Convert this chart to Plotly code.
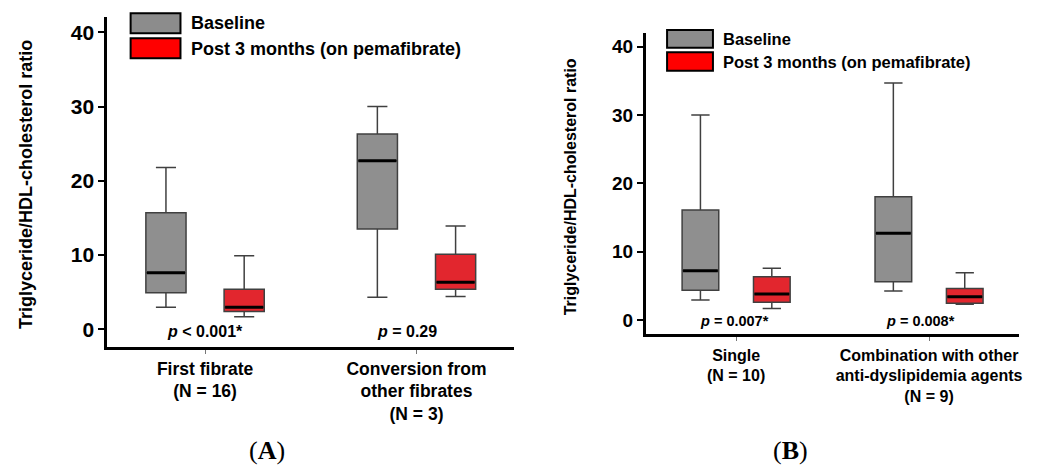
import plotly.graph_objects as go

W, H = 1042, 465

# ---------------- data ----------------
cats_a = ["First fibrate<br>(N = 16)", "Conversion from<br>other fibrates<br>(N = 3)"]
base_a_low = [2.96, 4.3]
base_a_q1 = [4.93, 13.5]
base_a_med = [7.6, 22.7]
base_a_q3 = [15.7, 26.3]
base_a_high = [21.8, 30.0]
post_a_low = [1.7, 4.4]
post_a_q1 = [2.4, 5.4]
post_a_med = [2.96, 6.33]
post_a_q3 = [5.4, 10.1]
post_a_high = [9.9, 13.9]
p_a = ["<i>p</i> < 0.001*", "<i>p</i> = 0.29"]

cats_b = ["Single<br>(N = 10)", "Combination with other<br>anti-dyslipidemia agents<br>(N = 9)"]
base_b_low = [2.93, 4.25]
base_b_q1 = [4.35, 5.6]
base_b_med = [7.2, 12.7]
base_b_q3 = [16.1, 18.05]
base_b_high = [30.0, 34.7]
post_b_low = [1.7, 2.3]
post_b_q1 = [2.6, 2.44]
post_b_med = [3.8, 3.4]
post_b_q3 = [6.34, 4.6]
post_b_high = [7.57, 6.93]
p_b = ["<i>p</i> = 0.007*", "<i>p</i> = 0.008*"]

y_ticks = [0, 10, 20, 30, 40]
series_names = ["Baseline", "Post 3 months (on pemafibrate)"]
# --------------------------------------

GRAY_FILL = "#8f8f8f"
RED_FILL = "#e2262e"
OUTLINE = "#404040"
FONT = "Liberation Sans"
OFF = 0.185
BW = 0.19


def px(x):
    return x / W


def py(y):
    return (H - y) / H


fig = go.Figure()


def add_panel(xa, ya, low, q1, med, q3, high, fill, sign):
    xs = [i + sign * OFF for i in range(len(med))]
    for i, x in enumerate(xs):
        fig.add_trace(go.Box(
            x=[x], q1=[q1[i]], median=[med[i]], q3=[q3[i]],
            lowerfence=[low[i]], upperfence=[high[i]],
            width=BW, whiskerwidth=0.5, fillcolor=fill,
            line=dict(color=OUTLINE, width=1.5),
            xaxis=xa, yaxis=ya, showlegend=False, hoverinfo="skip"))
        fig.add_trace(go.Scatter(
            x=[x - BW / 2 + 0.005, x + BW / 2 - 0.005], y=[med[i], med[i]],
            mode="lines", line=dict(color="black", width=3),
            xaxis=xa, yaxis=ya, showlegend=False, hoverinfo="skip"))


add_panel("x", "y", base_a_low, base_a_q1, base_a_med, base_a_q3, base_a_high, GRAY_FILL, -1)
add_panel("x", "y", post_a_low, post_a_q1, post_a_med, post_a_q3, post_a_high, RED_FILL, 1)
add_panel("x2", "y2", base_b_low, base_b_q1, base_b_med, base_b_q3, base_b_high, GRAY_FILL, -1)
add_panel("x2", "y2", post_b_low, post_b_q1, post_b_med, post_b_q3, post_b_high, RED_FILL, 1)

axis_common = dict(showline=True, linewidth=3, linecolor="black", showgrid=False,
                   zeroline=False, ticks="outside")

fig.update_layout(
    width=W, height=H, margin=dict(l=0, r=0, t=0, b=0),
    paper_bgcolor="white", plot_bgcolor="white",
    font=dict(family=FONT, color="black"),
    boxmode="overlay",
    xaxis=dict(domain=[px(107.7), px(515)], range=[-0.462, 1.459],
               tickvals=[0, 1], ticktext=cats_a, ticklen=4, tickwidth=1, tickcolor="#777",
               tickfont=dict(size=17.5, weight="bold", family=FONT), anchor="y", **axis_common),
    yaxis=dict(domain=[py(346.7), py(16.7)], range=[-2.35, 42.1],
               tickvals=y_ticks, ticklen=6, tickwidth=2, tickcolor="black",
               tickfont=dict(size=21, weight="bold", family=FONT), anchor="x", **axis_common),
    xaxis2=dict(domain=[px(647.7), px(1021.7)], range=[-0.468, 1.465],
                tickvals=[0, 1], ticktext=cats_b, ticklen=4, tickwidth=1, tickcolor="#777",
                tickfont=dict(size=16, weight="bold", family=FONT), anchor="y2", **axis_common),
    yaxis2=dict(domain=[py(334.3), py(33.3)], range=[-2.09, 41.98],
                tickvals=y_ticks, ticklen=6, tickwidth=2, tickcolor="black",
                tickfont=dict(size=19, weight="bold", family=FONT), anchor="x2", **axis_common),
)

ann = []
# p-values
for i, t in enumerate(p_a):
    ann.append(dict(x=[0.0, 0.955][i], y=-0.3, xref="x", yref="y", text=t, showarrow=False,
                    font=dict(size=16, weight="bold", family=FONT), xanchor="center", yanchor="middle"))
for i, t in enumerate(p_b):
    ann.append(dict(x=[-0.008, 0.957][i], y=-0.15, xref="x2", yref="y2", text=t, showarrow=False,
                    font=dict(size=14.5, weight="bold", family=FONT), xanchor="center", yanchor="middle"))
# y-axis titles
ytitle = "Triglyceride/HDL-cholesterol ratio"
ann.append(dict(x=px(26), y=py(184), xref="paper", yref="paper", text=ytitle, textangle=-90,
                showarrow=False, font=dict(size=18, weight="bold", family=FONT),
                xanchor="center", yanchor="middle"))
ann.append(dict(x=px(571.7), y=py(187.3), xref="paper", yref="paper", text=ytitle, textangle=-90,
                showarrow=False, font=dict(size=16, weight="bold", family=FONT),
                xanchor="center", yanchor="middle"))
# panel letters
for lab, cx in [("(<b>A</b>)", 268), ("(<b>B</b>)", 793)]:
    ann.append(dict(x=px(cx), y=py(450), xref="paper", yref="paper", text=lab, showarrow=False,
                    font=dict(size=26, family="Liberation Serif"), xanchor="center", yanchor="middle"))

# legends (swatches + text)
shapes = []
legend_specs = [
    # swatch x0, x1, rows (y0, y1, text_y), text x, font size
    (131, 181, [(13.3, 33.3, 23.3), (38.3, 58.3, 49.3)], 190, 18),
    (669, 715, [(30, 47.7, 39), (52.3, 70.7, 62.3)], 723.3, 16.5),
]
swatch_colors = ["#8c8c8c", "#ff0000"]
for x0, x1, rows, tx, fs in legend_specs:
    for (y0, y1, ty), col, name in zip(rows, swatch_colors, series_names):
        shapes.append(dict(type="rect", xref="paper", yref="paper",
                           x0=px(x0), x1=px(x1), y0=py(y1), y1=py(y0),
                           fillcolor=col, line=dict(color="black", width=2)))
        ann.append(dict(x=px(tx), y=py(ty), xref="paper", yref="paper", text=name,
                        showarrow=False, font=dict(size=fs, weight="bold", family=FONT),
                        xanchor="left", yanchor="middle"))

fig.update_layout(annotations=ann, shapes=shapes)
fig.write_html("out.html")
